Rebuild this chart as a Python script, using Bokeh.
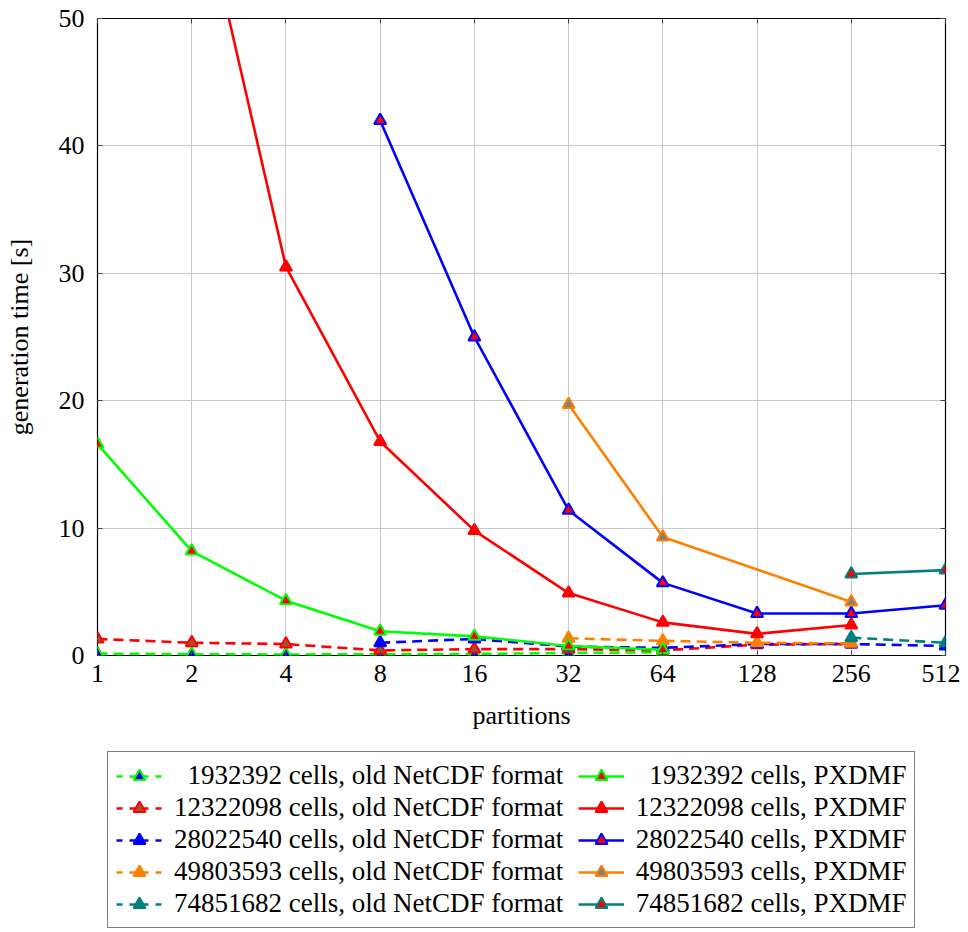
from bokeh.plotting import figure
from bokeh.layouts import column
from bokeh.models import (Range1d, FixedTicker, Legend, LegendItem, LinearAxis, LogAxis,
                          CustomLabelingPolicy)
from bokeh.embed import file_html
from bokeh.resources import INLINE

# ---------------- data ----------------
TICKS = [1, 2, 4, 8, 16, 32, 64, 128, 256, 512]
TICK_LABELS = ["1", "2", "4", "8", "16", "32", "64", "128", "256", "512"]
Y_TICKS = [0, 10, 20, 30, 40, 50]

cells = ["1932392", "12322098", "28022540", "49803593", "74851682"]
colors = ["#00ff00", "#ff0000", "#0000ff", "#ff8000", "#008080"]
old_fill = ["#0000ff", "#a0522d", "#0000ff", "#ff8000", "#008080"]
new_fill = ["#ff0000", "#ff0000", "#ff0000", "#808080", "#ff0000"]

old_x = [
    [1, 2, 4, 8, 16, 32, 64],
    [1, 2, 4, 8, 16, 32, 64, 128, 256],
    [8, 16, 32, 64, 128, 256, 512],
    [32, 64, 128, 256],
    [256, 512],
]
old_y = [
    [0.15, 0.1, 0.08, 0.1, 0.12, 0.2, 0.25],
    [1.3, 1.0, 0.9, 0.4, 0.5, 0.5, 0.4, 0.85, 0.9],
    [1.0, 1.3, 0.7, 0.6, 0.9, 0.9, 0.75],
    [1.35, 1.15, 1.0, 0.95],
    [1.4, 1.0],
]
new_x = [
    [1, 2, 4, 8, 16, 32, 64],
    [2, 4, 8, 16, 32, 64, 128, 256],
    [8, 16, 32, 64, 128, 256, 512],
    [32, 64, 256],
    [256, 512],
]
new_y = [
    [16.6, 8.2, 4.3, 1.9, 1.5, 0.75, 0.45],
    [62.7, 30.5, 16.8, 9.8, 4.9, 2.6, 1.7, 2.4],
    [42.0, 25.0, 11.4, 5.7, 3.3, 3.3, 3.95],
    [19.7, 9.3, 4.2],
    [6.4, 6.7],
]

FONT = "Liberation Serif"
FS = "26px"

p = figure(frame_width=848, frame_height=637, output_backend="svg", toolbar_location=None,
           x_axis_type="log", x_range=Range1d(1, 512), y_range=Range1d(0, 50),
           min_border_left=97, min_border_top=18, min_border_right=15, min_border_bottom=0,
           x_axis_label="partitions", y_axis_label="generation time [s]")
p.background_fill_color = "white"
p.border_fill_color = "white"
p.outline_line_color = "black"
p.outline_line_width = 1.2

p.xaxis.ticker = FixedTicker(ticks=TICKS)
p.xaxis.major_label_overrides = {t: l for t, l in zip(TICKS, TICK_LABELS)}
p.yaxis.ticker = FixedTicker(ticks=Y_TICKS)
for ax in (p.xaxis, p.yaxis):
    ax.major_label_text_font = FONT
    ax.major_label_text_font_size = FS
    ax.major_label_text_color = "black"
    ax.axis_label_text_font = FONT
    ax.axis_label_text_font_size = FS
    ax.axis_label_text_font_style = "normal"
    ax.axis_label_text_color = "black"
    ax.major_tick_in = 5
    ax.major_tick_out = 0
    ax.minor_tick_in = 0
    ax.minor_tick_out = 0
    ax.axis_line_color = None
    ax.major_tick_line_color = "#444444"
p.xaxis.major_label_standoff = 9
p.xaxis.axis_label_standoff = 16
p.yaxis.major_label_standoff = 13
p.yaxis.axis_label_standoff = 22

# mirrored ticks on top and right, without labels
no_labels = "for (const i of indices) { indices.unset(i) } return indices"
top = LogAxis(ticker=FixedTicker(ticks=TICKS), major_label_policy=CustomLabelingPolicy(code=no_labels),
              major_tick_in=5, major_tick_out=0, minor_tick_in=0, minor_tick_out=0,
              axis_line_color=None, major_label_standoff=0, major_tick_line_color="#444444")
right = LinearAxis(ticker=FixedTicker(ticks=Y_TICKS), major_label_policy=CustomLabelingPolicy(code=no_labels),
                   major_tick_in=5, major_tick_out=0, minor_tick_in=0, minor_tick_out=0,
                   axis_line_color=None, major_label_standoff=0, major_tick_line_color="#444444")
p.add_layout(top, "above")
p.add_layout(right, "right")

p.xgrid.grid_line_color = "#c8c8c8"
p.ygrid.grid_line_color = "#c8c8c8"
p.xgrid.grid_line_width = 1
p.ygrid.grid_line_width = 1

# legend figure (separate so the legend can sit below the axis label);
# its glyphs use the same data but lie outside its (empty) view
lg = figure(width=960, height=200, output_backend="svg", toolbar_location=None,
            x_axis_location=None, y_axis_location=None, min_border=0,
            x_range=Range1d(-10, -5), y_range=Range1d(-10, -5))
lg.outline_line_color = None
lg.xgrid.visible = False
lg.ygrid.visible = False


def num(c):
    # pad 7-digit numbers with a figure space so the digits line up
    return ("\u2007" + c) if len(c) < 8 else c


items_old = []
items_new = []
for i in range(5):
    p.line(old_x[i], old_y[i], line_color=colors[i], line_width=2.6, line_dash="10 6")
    p.scatter(old_x[i], old_y[i], marker="triangle", size=12, line_color=colors[i],
              line_width=2, fill_color=old_fill[i])
    a = lg.line(old_x[i], old_y[i], line_color=colors[i], line_width=2.6, line_dash="6 7")
    b = lg.scatter(old_x[i], old_y[i], marker="triangle", size=12, line_color=colors[i],
                   line_width=2, fill_color=old_fill[i])
    items_old.append(LegendItem(label=f"{num(cells[i])} cells, old NetCDF format\u2002",
                                renderers=[a, b]))
for i in range(5):
    p.line(new_x[i], new_y[i], line_color=colors[i], line_width=2.6)
    p.scatter(new_x[i], new_y[i], marker="triangle", size=12, line_color=colors[i],
              line_width=2, fill_color=new_fill[i])
    a = lg.line(new_x[i], new_y[i], line_color=colors[i], line_width=2.6)
    b = lg.scatter(new_x[i], new_y[i], marker="triangle", size=12, line_color=colors[i],
                   line_width=2, fill_color=new_fill[i])
    items_new.append(LegendItem(label=f"{num(cells[i])} cells, PXDMF", renderers=[a, b]))

legend = Legend(items=items_old + items_new, ncols=2, orientation="vertical",
                label_text_font=FONT, label_text_font_size="27px", label_text_color="black",
                glyph_width=46, glyph_height=30, label_height=30, label_standoff=12,
                spacing=1, padding=8, margin=0, location=(10, 4),
                border_line_color="black", border_line_width=1.2,
                background_fill_alpha=1.0)
lg.add_layout(legend, "center")

layout = column(p, lg, spacing=0)
open("out.html", "w").write(file_html(layout, INLINE))
